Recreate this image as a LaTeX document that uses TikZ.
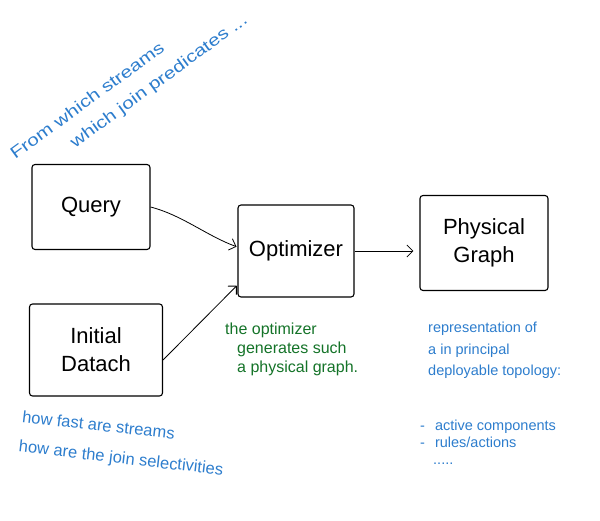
\documentclass[tikz,border=0pt]{standalone}
\usepackage{fontspec}
\setmainfont{Liberation Sans}
\newfontfamily\widefont[FakeStretch=1.25]{Liberation Sans}
\usetikzlibrary{arrows.meta}
\definecolor{noteblue}{RGB}{45,125,205}
\definecolor{notegreen}{RGB}{20,115,40}
\begin{document}
\begin{tikzpicture}[x=1pt, y=-1pt, > = {Straight Barb[length=6pt,width=12pt]}, shorten > = 1pt]
            % Estilos
            \tikzstyle{block}=[draw, line width=1.1pt, rounded corners=3pt, inner sep=0pt, align=center, font=\fontsize{22}{28}\selectfont]
            \tikzstyle{note}=[inner sep=0pt, align=left, anchor=north west, text=noteblue]
            \useasboundingbox (0,0) rectangle (600,520);

            % Blocos
            \node[block, minimum width=118pt, minimum height=85pt] (query) at (91,207) {Query};
            \node[block, minimum width=133pt, minimum height=92pt] (initial) at (96,350) {Initial\\Datach};
            \node[block, minimum width=116pt, minimum height=92pt] (optimizer) at (296,251) {Optimizer};
            \node[block, minimum width=128pt, minimum height=95pt] (physical) at (484,243) {Physical\\Graph};

            % Setas
            \draw[->,thick] (query.east) .. controls (182,215) and (207,236) .. ([yshift=4pt]optimizer.west);
            \draw[->,thick] ([yshift=-10pt]initial.east) -- ([yshift=-34pt]optimizer.west);
            \draw[->,thick, shorten > = 6pt] (optimizer.east) -- (optimizer.east -| physical.west);

            % Anotações
            \node[note, rotate=36, font=\widefont\fontsize{16.5}{26}\selectfont] (streams) at (8,150) {From which streams\\\hspace*{55pt}which join predicates ...};
            \node[note, text=notegreen, font=\fontsize{16}{19}\selectfont] (generates) at (225,323) {the optimizer\\\hspace*{12pt}generates such\\\hspace*{12pt}a physical graph.};
            \node[note, font=\fontsize{14.5}{21.5}\selectfont] (topology) at (420,322) {\hspace*{8pt}representation of\\\hspace*{8pt}a in principal\\\hspace*{8pt}deployable topology:\\[33.5pt]-\hspace{10pt}active components\\[-4.5pt]-\hspace{10pt}rules/actions\\[-4.5pt]\hspace*{13pt}.....};
            \node[note, rotate=-6.5, font=\fontsize{16.5}{30}\selectfont] (selectivity) at (23,410) {how fast are streams\\how are the join selectivities};
        \end{tikzpicture}
\end{document}
